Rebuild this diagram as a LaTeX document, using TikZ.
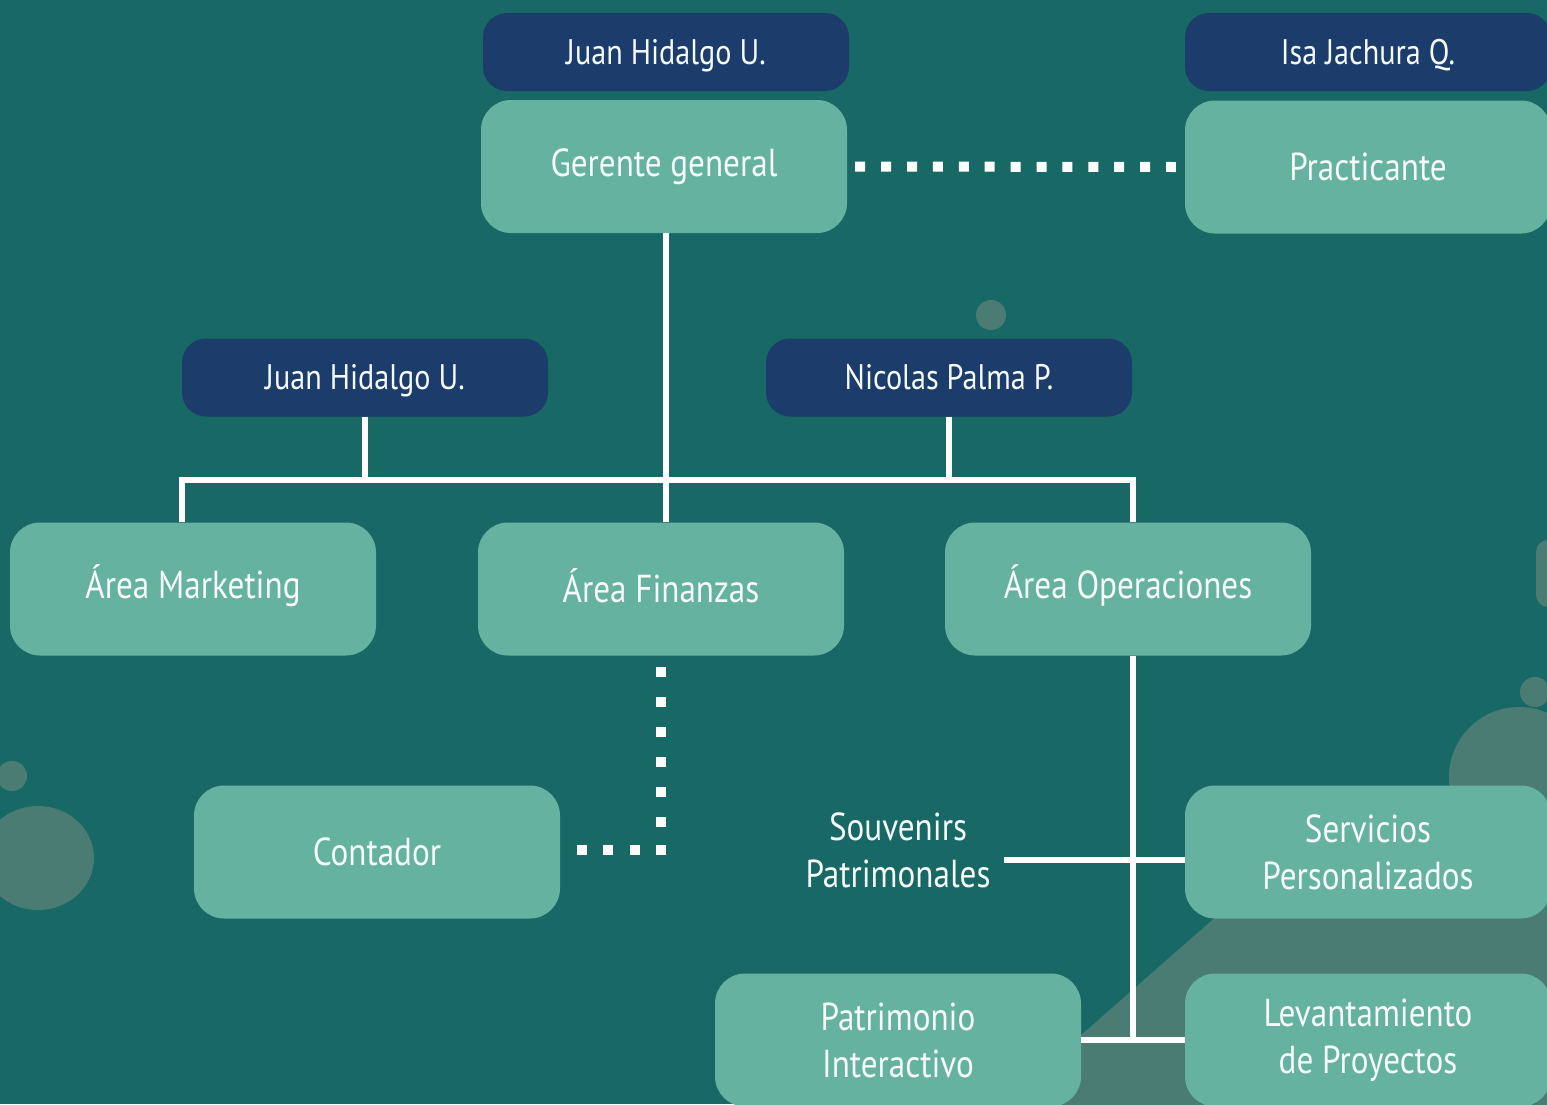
\documentclass[tikz,border=0pt]{standalone}
\usepackage{fontspec}
\setmainfont{PT Sans}[FakeStretch=0.85]
\definecolor{bgc}{HTML}{186866}
\definecolor{lightc}{HTML}{65B2A1}
\definecolor{navyc}{HTML}{1C3D6B}
\definecolor{decor}{HTML}{4B7C74}
\definecolor{txtc}{HTML}{F6FAF9}
\tikzset{
  lightbox/.style={fill=lightc, rounded corners=30pt, minimum width=366pt, minimum height=133pt, inner sep=0pt, text=txtc, font=\fontsize{39}{47}\selectfont, align=center},
  navybox/.style={fill=navyc, rounded corners=24pt, minimum width=366pt, minimum height=78pt, inner sep=0pt, text=txtc, font=\fontsize{35.5}{40}\selectfont, text height=25pt, text depth=1pt},
  wline/.style={draw=white, line width=6pt},
  dotline/.style={draw=white, line width=10pt, line cap=butt},
}
\begin{document}
\begin{tikzpicture}[x=1pt,y=-1pt]
\fill[bgc] (0,0) rectangle (1547,1104);
\useasboundingbox (0,0) rectangle (1547,1104);
\clip (0,0) rectangle (1547,1104);
% decorations
\fill[decor] (991,315) circle (15);
\fill[decor] (12,776) circle (15);
\fill[decor] (38,858) ellipse [x radius=56, y radius=52];
\fill[decor] (1535,692) circle (15);
\fill[decor] (1519,777) circle (70);
\fill[decor, rounded corners=12pt] (1536,540) rectangle (1580,607);
\fill[decor] (990,1115) -- (1292,850) -- (1560,850) -- (1560,1115) -- cycle;
% nodes
\node[navybox] (jh1) at (666,52) {Juan Hidalgo U.};
\node[lightbox] (gg) at (664,166.5) {Gerente general};
\node[navybox] (isa) at (1368,52) {Isa Jachura Q.};
\node[lightbox] (prac) at (1368,167) {Practicante};
\node[navybox] (jh2) at (365,377.5) {Juan Hidalgo U.};
\node[navybox] (np) at (949,377.5) {Nicolas Palma P.};
\node[lightbox] (mk) at (193,589) {\smash{Á}rea Marketing};
\node[lightbox] (fin) at (661,589) {\smash{Á}rea Finanzas};
\node[lightbox] (ops) at (1128,589) {\smash{Á}rea Operaciones};
\node[lightbox] (cont) at (377,852) {Contador};
\node[lightbox] (serv) at (1368,852) {Servicios\\Personalizados};
\node[lightbox] (patr) at (898,1040) {Patrimonio\\Interactivo};
\node[lightbox] (lev) at (1368,1040) {Levantamiento\\de Proyectos};
\node[text=txtc, font=\fontsize{39}{47}\selectfont, align=center] (souv) at (898,850) {Souvenirs\\Patrimonales};
\coordinate (bus) at (0,480);
\coordinate (sv) at (1004,860);
% connectors
\draw[wline] ([xshift=2pt]gg.south) -- ([xshift=2pt]gg.south |- fin.north);
\draw[wline] ([xshift=-11pt]mk.north) -- ([xshift=-11pt]mk.north |- bus) -- ([xshift=5pt]ops.north |- bus) -- ([xshift=5pt]ops.north);
\draw[wline] (jh2.south) -- (jh2.south |- bus);
\draw[wline] (np.south) -- (np.south |- bus);
\draw[wline] ([xshift=5pt]ops.south) -- ([xshift=5pt]ops.south |- lev.west);
\draw[wline] (sv) -- (sv -| serv.west);
\draw[wline] (patr.east) -- (lev.west);
% dotted
\draw[dotline, dash pattern=on 10pt off 15.9pt] ([xshift=8pt]gg.east) -- ([xshift=-9pt]prac.west);
\coordinate (dc) at (661,850);
\draw[dotline, dash pattern=on 10pt off 20pt] ([yshift=-11pt]fin.south) -- ([yshift=5pt]dc);
\draw[dotline, dash pattern=on 10pt off 16.5pt] ([xshift=5pt]dc) -- ([xshift=-84.5pt]dc);
\end{tikzpicture}
\end{document}
